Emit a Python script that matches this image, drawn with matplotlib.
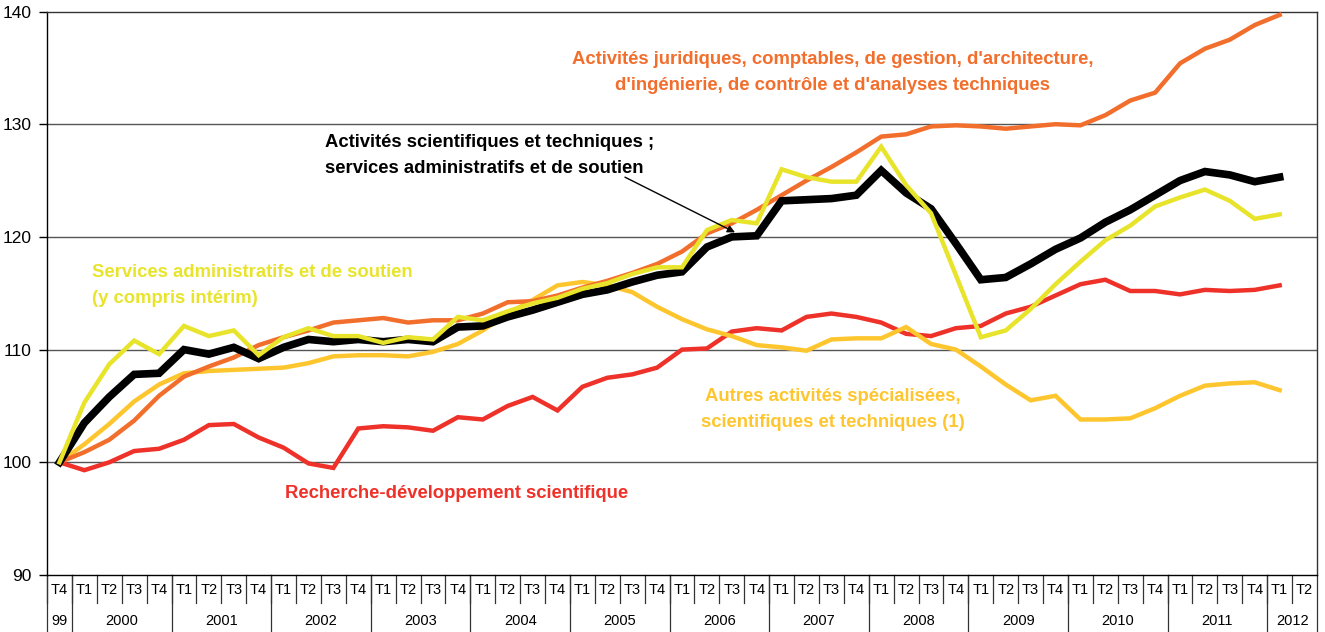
# ---------- IMPORT ------------
import matplotlib
matplotlib.use("Agg")
import matplotlib.pyplot as plt
# ------------------------------


# ---------- DATA --------------
quarters = ["T4"] + ["T1", "T2", "T3", "T4"] * 12 + ["T1", "T2"]
years = ["99", "2000", "2001", "2002", "2003", "2004", "2005", "2006",
         "2007", "2008", "2009", "2010", "2011", "2012"]
year_len = [1] + [4] * 12 + [2]

total = [100.0, 103.5, 105.8, 107.8, 107.9, 110.0, 109.6, 110.2, 109.2, 110.2,
         110.9, 110.7, 110.9, 110.7, 110.9, 110.7, 112.0, 112.1, 112.9, 113.5,
         114.2, 114.9, 115.3, 116.0, 116.6, 116.9, 119.1, 120.0, 120.1, 123.2,
         123.3, 123.4, 123.7, 125.9, 123.9, 122.5, 119.4, 116.2, 116.4, 117.6,
         118.9, 119.9, 121.3, 122.4, 123.7, 125.0, 125.8, 125.5, 124.9, 125.3]

juridiques = [100.0, 100.9, 102.0, 103.7, 105.9, 107.6, 108.5, 109.3, 110.4, 111.1,
              111.7, 112.4, 112.6, 112.8, 112.4, 112.6, 112.6, 113.2, 114.2, 114.3,
              114.8, 115.5, 116.1, 116.8, 117.6, 118.7, 120.3, 121.2, 122.4, 123.7,
              125.0, 126.2, 127.5, 128.9, 129.1, 129.8, 129.9, 129.8, 129.6, 129.8,
              130.0, 129.9, 130.8, 132.1, 132.8, 135.4, 136.7, 137.5, 138.8, 139.7]

services = [100.0, 105.3, 108.7, 110.8, 109.6, 112.1, 111.2, 111.7, 109.5, 111.1,
            111.9, 111.2, 111.2, 110.6, 111.1, 110.9, 112.9, 112.6, 113.4, 114.1,
            114.6, 115.4, 115.9, 116.7, 117.3, 117.3, 120.6, 121.5, 121.2, 126.0,
            125.3, 124.9, 124.9, 128.0, 124.6, 122.1, 116.6, 111.1, 111.7, 113.6,
            115.8, 117.8, 119.7, 121.0, 122.7, 123.5, 124.2, 123.2, 121.6, 122.0]

autres = [100.0, 101.6, 103.4, 105.4, 106.9, 107.9, 108.1, 108.2, 108.3, 108.4,
          108.8, 109.4, 109.5, 109.5, 109.4, 109.8, 110.5, 111.7, 113.2, 114.4,
          115.7, 116.0, 115.7, 115.1, 113.8, 112.7, 111.8, 111.2, 110.4, 110.2,
          109.9, 110.9, 111.0, 111.0, 112.0, 110.5, 110.0, 108.5, 106.9, 105.5,
          105.9, 103.8, 103.8, 103.9, 104.8, 105.9, 106.8, 107.0, 107.1, 106.4]

recherche = [100.0, 99.3, 100.0, 101.0, 101.2, 102.0, 103.3, 103.4, 102.2, 101.3,
             99.9, 99.5, 103.0, 103.2, 103.1, 102.8, 104.0, 103.8, 105.0, 105.8,
             104.6, 106.7, 107.5, 107.8, 108.4, 110.0, 110.1, 111.6, 111.9, 111.7,
             112.9, 113.2, 112.9, 112.4, 111.4, 111.2, 111.9, 112.1, 113.2, 113.8,
             114.8, 115.8, 116.2, 115.2, 115.2, 114.9, 115.3, 115.2, 115.3, 115.7]
# ------------------------------


# ---------- CONFIG ------------
c_red = "#EE3129"
c_orange = "#F26E2C"
c_yellow = "#E8E42C"
c_gold = "#FEC62E"
font = "Liberation Sans"
W, H = 1325, 632
lab_size = 13.3
lab_ls = 1.72
# ------------------------------

plt.rcParams["font.family"] = font

fig = plt.figure(figsize=(W / 100, H / 100), dpi=100)
ax = fig.add_axes([47 / W, 1 - 575 / H, (1317 - 47) / W, (575 - 11.5) / H])

x = list(range(len(total)))
ax.plot(x, recherche, color=c_red, lw=3.2, solid_joinstyle="miter", zorder=3)
ax.plot(x, autres, color=c_gold, lw=3.2, solid_joinstyle="miter", zorder=3)
ax.plot(x, juridiques, color=c_orange, lw=3.2, solid_joinstyle="miter", zorder=3)
ax.plot(x, total, color="black", lw=5.5, solid_joinstyle="miter", zorder=4)
ax.plot(x, services, color=c_yellow, lw=3.2, solid_joinstyle="miter", zorder=5)

ax.set_xlim(-0.5, len(quarters) - 0.5)
ax.set_ylim(90, 140)
ax.set_yticks([90, 100, 110, 120, 130, 140])
ax.tick_params(axis="y", labelsize=12.5, length=6, width=1, pad=5, direction="out")
ax.set_xticks([])
for v in [100, 110, 120, 130]:
    ax.axhline(v, color="#555555", lw=1.0, zorder=1)
for s in ax.spines.values():
    s.set_linewidth(1.0)
ax.spines["left"].set_color("black")
ax.spines["top"].set_color("#333333")
ax.spines["right"].set_color("#333333")

# quarter / year table under the axis
trans = ax.get_xaxis_transform()
ah = 575 - 11.5
q_bottom = -28 / ah
y_bottom = -57 / ah
for i, q in enumerate(quarters):
    ax.text(i, -15 / ah, q, transform=trans, ha="center", va="center",
            fontsize=10.5, clip_on=False)
    ax.plot([i - 0.5, i - 0.5], [0, q_bottom], transform=trans, color="#333333",
            lw=0.9, clip_on=False)
start = -0.5
for yr, n in zip(years, year_len):
    ax.plot([start, start], [0, y_bottom], transform=trans, color="#333333",
            lw=0.9, clip_on=False)
    ax.text(start + n / 2, -46 / ah, yr, transform=trans, ha="center",
            va="center", fontsize=10.5, clip_on=False)
    start += n
ax.plot([start, start], [0, y_bottom], transform=trans, color="#333333",
        lw=0.9, clip_on=False)

# series labels
ax.text(31.06, 134.6, "Activités juridiques, comptables, de gestion, d'architecture,\n"
        "d'ingénierie, de contrôle et d'analyses techniques",
        color=c_orange, fontsize=lab_size, fontweight="bold", ha="center", va="center",
        multialignment="center", linespacing=lab_ls)
ax.text(10.66, 127.2, "Activités scientifiques et techniques ;\n"
        "services administratifs et de soutien",
        color="black", fontsize=lab_size, fontweight="bold", ha="left", va="center",
        linespacing=lab_ls)
ax.text(1.31, 115.7, "Services administratifs et de soutien\n(y compris intérim)",
        color=c_yellow, fontsize=lab_size, fontweight="bold", ha="left", va="center",
        linespacing=lab_ls)
ax.text(31.06, 104.7, "Autres activités spécialisées,\nscientifiques et techniques (1)",
        color=c_gold, fontsize=lab_size, fontweight="bold", ha="center", va="center",
        multialignment="center", linespacing=lab_ls)
ax.text(9.05, 97.2, "Recherche-développement scientifique",
        color=c_red, fontsize=lab_size, fontweight="bold", ha="left", va="center")

ax.annotate("", xy=(27.13, 120.4), xytext=(22.71, 125.3),
            arrowprops=dict(arrowstyle="-|>", color="black", lw=1.0,
                            mutation_scale=11, shrinkA=0, shrinkB=0), zorder=6)

fig.savefig("out.png", dpi=100)
